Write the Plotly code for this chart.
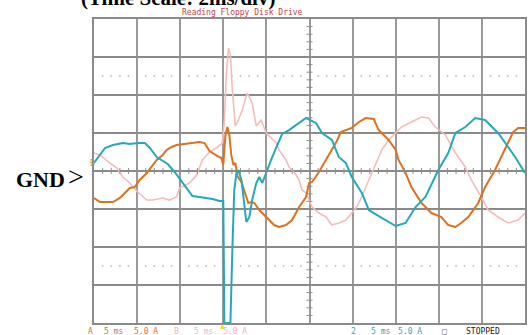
import plotly.graph_objects as go

# Time in ms (2 ms/div), current in A (5 A/div)
teal_t = [0, 0.28, 0.51, 0.88, 1.34, 1.66, 2.03, 2.36, 2.59, 2.91, 3.19, 3.42, 3.74, 3.97, 4.30, 4.57,
          4.90, 5.22, 5.50, 5.82, 6.00, 6.05, 6.33, 6.42, 6.51, 6.61, 6.70, 6.84, 6.98, 7.07, 7.21, 7.34,
          7.53, 7.67, 7.81, 7.99, 8.22, 8.45, 8.73, 9.05, 9.52, 9.84, 10.30, 10.58, 11.04, 11.36, 11.69,
          11.96, 12.43, 12.75, 13.35, 14.00, 14.46, 14.92, 15.38, 15.98, 16.44, 16.77, 17.23, 17.69,
          18.15, 18.75, 19.22, 19.54, 20.0]
teal_i = [1.05, 2.11, 3.03, 3.42, 3.68, 3.55, 3.68, 3.68, 3.03, 1.84, 1.32, 0.92, -0.13, -1.05, -2.37, -3.29,
          -3.42, -3.55, -3.68, -3.95, -3.95, -20, -20, -10.4, -2.5, -0.26, 0.13, -1.18, -5.13, -6.71, -6.05, -3.82,
          -1.58, -0.79, -1.58, -0.13, 1.45, 3.03, 4.87, 5.39, 6.32, 6.97, 6.32, 5.0, 4.08, 1.84, 1.05,
          -0.79, -2.89, -5.13, -6.18, -7.24, -6.84, -4.74, -3.42, 0.13, 2.37, 5.0, 5.79, 6.97,
          6.71, 5.0, 3.16, 1.84, -0.26]

orange_t = [0, 0.28, 0.88, 1.20, 1.66, 1.89, 2.12, 2.45, 2.91, 3.19, 3.37, 3.60, 3.83, 4.43, 4.90, 5.13,
            5.36, 5.73, 5.91, 6.00, 6.10, 6.19, 6.28, 6.37, 6.47, 6.56, 6.65, 6.84, 7.07, 7.16, 7.30, 7.44,
            7.67, 7.81, 7.99, 8.13, 8.36, 8.59, 8.91, 9.19, 9.42, 9.52, 9.84, 9.98, 10.12, 10.30, 10.44,
            10.76, 11.04, 11.27, 11.45, 11.69, 11.96, 12.29, 12.61, 12.98, 13.21, 13.67, 14.00, 14.13,
            14.46, 14.73, 15.20, 15.66, 16.12, 16.44, 16.77, 17.04, 17.37, 17.83, 18.15, 18.61, 18.89,
            19.21, 19.45, 19.68, 20.0]
orange_i = [-3.55, -4.08, -4.08, -3.55, -2.24, -2.11, -1.18, -0.26, 1.45, 2.11, 2.76, 3.16, 3.42, 3.68, 3.82, 3.68,
            2.63, 1.97, 1.71, 0.79, 4.74, 5.79, 4.74, 2.11, 0.79, 1.05, -0.66, -1.45, -3.42, -4.21, -4.08, -4.21,
            -5.13, -5.53, -6.18, -6.45, -7.11, -7.37, -7.11, -6.45, -5.13, -4.74, -3.42, -1.58, -1.45, -0.79, -0.13,
            1.45, 2.76, 3.95, 5.13, 5.39, 5.66, 6.45, 6.97, 6.84, 5.39, 4.08, 2.76, 1.45,
            -0.26, -2.11, -4.21, -5.53, -6.05, -7.11, -7.37, -6.84, -6.05, -4.21, -2.11, 0.13, 1.84,
            3.68, 5.13, 5.66, 5.66]

pink_t = [0, 0.28, 0.74, 1.06, 1.34, 1.66, 2.03, 2.45, 2.73, 3.19, 3.51, 3.83, 3.97, 4.43, 4.76, 5.03,
          5.36, 5.68, 5.96, 6.05, 6.14, 6.24, 6.33, 6.42, 6.56, 6.70, 6.88, 7.11, 7.34, 7.53, 7.76, 7.99,
          8.45, 8.59, 8.91, 9.05, 9.38, 9.52, 9.65, 9.84, 10.12, 10.44, 10.76, 11.04, 11.36, 11.69, 11.96,
          12.19, 12.42, 12.75, 13.07, 13.35, 13.67, 14.00, 14.27, 14.73, 15.20, 15.52, 15.84, 16.30,
          16.77, 17.23, 17.51, 17.97, 18.29, 18.75, 19.21, 19.68, 20.0]
pink_i = [2.37, 2.11, 1.05, 0.39, -0.79, -1.58, -2.76, -3.82, -3.82, -3.55, -3.82, -3.42, -2.24, -1.58, -0.53, 1.45,
          2.50, 3.03, 3.68, 6.71, 12.63, 16.18, 15.26, 10.66, 5.92, 6.71, 8.03, 10.26, 8.95, 5.92, 6.71, 5.0,
          3.68, 2.76, 1.45, 0.53, -0.53, -1.18, -2.50, -2.89, -4.74, -5.53, -6.05, -7.11, -6.84, -6.45, -5.53,
          -4.74, -3.42, -1.18, 1.05, 2.76, 4.08, 5.0, 5.79, 6.45, 7.11, 6.97, 5.79, 4.74,
          2.37, 0.53, -1.18, -3.42, -5.13, -6.05, -6.84, -6.45, -5.53]

T_MAX = 20.0
I_MAX = 20.0
X_DIV = 2.0
Y_DIV = 5.0

L, R, T, B = 94, 3, 19, 12
W, H = 530, 335
PW, PH = W - L - R, H - T - B


def px(x):
    return (x - L) / PW


def py(y):
    return (H - B - y) / PH


fig = go.Figure()

# dotted rows
dot_x, dot_y = [], []
for k in range(10):
    for j in range(1, 5):
        xv = k * X_DIV + j * X_DIV / 5
        for yv in (2.5 * Y_DIV, -2.5 * Y_DIV):
            dot_x.append(xv)
            dot_y.append(yv)
fig.add_trace(go.Scatter(x=dot_x, y=dot_y, mode="markers",
                         marker=dict(size=2, color="#c4c4c4"), hoverinfo="skip"))

fig.add_trace(go.Scatter(x=pink_t, y=pink_i, mode="lines",
                         line=dict(color="#f5bcbc", width=1.6), hoverinfo="skip"))
fig.add_trace(go.Scatter(x=orange_t, y=orange_i, mode="lines",
                         line=dict(color="#e0701e", width=2), hoverinfo="skip"))
fig.add_trace(go.Scatter(x=teal_t, y=teal_i, mode="lines",
                         line=dict(color="#24a9b6", width=2), hoverinfo="skip"))

shapes = []
# center axis ticks
for k in range(1, 50):
    xv = k * X_DIV / 5
    shapes.append(dict(type="line", xref="x", yref="y", x0=xv, x1=xv, y0=-0.4, y1=0.4,
                       line=dict(color="#909090", width=1)))
for k in range(-19, 20):
    yv = k * Y_DIV / 5
    shapes.append(dict(type="line", xref="x", yref="y", x0=T_MAX / 2 - 0.14, x1=T_MAX / 2 + 0.14,
                       y0=yv, y1=yv, line=dict(color="#909090", width=1)))

ann = []
ann.append(dict(text="(Time Scale: 2ms/div)", x=px(178.5), y=py(-2), xref="paper", yref="paper",
                showarrow=False, xanchor="center", yanchor="middle",
                font=dict(family="Liberation Serif", size=21, color="black", weight="bold")))
ann.append(dict(text="Reading Floppy Disk Drive", x=px(243.5), y=py(12.5), xref="paper", yref="paper",
                showarrow=False, xanchor="center", yanchor="middle",
                font=dict(family="DejaVu Sans Mono", size=8, color="#c8404c")))
ann.append(dict(text="GND", x=px(40), y=py(179.5), xref="paper", yref="paper",
                showarrow=False, xanchor="center", yanchor="middle",
                font=dict(family="Liberation Serif", size=22, color="black", weight="bold")))
ann.append(dict(text="&gt;", x=px(76), y=py(176), xref="paper", yref="paper",
                showarrow=False, xanchor="center", yanchor="middle",
                font=dict(family="Liberation Serif", size=28, color="black")))
ann.append(dict(text="B", x=px(92.5), y=py(163.5), xref="paper", yref="paper",
                showarrow=False, xanchor="center", yanchor="middle",
                font=dict(family="DejaVu Sans Mono", size=8, color="#c0905a")))

legend_items = [
    ("A", 90, "#e07028"), ("5 ms", 114, "#e07028"), ("5.0 A", 146.5, "#e07028"),
    ("B", 177, "#f4b4b4"), ("5 ms", 204.5, "#f4b4b4"), ("5.0 A", 235.5, "#f4b4b4"),
    ("2", 355, "#30a8b8"), ("5 ms", 382, "#30a8b8"), ("5.0 A", 411.5, "#30a8b8"),
    ("□", 446, "#606060"), ("STOPPED", 484.5, "#202020"),
]
for txt, xp, col in legend_items:
    ann.append(dict(text=txt, x=px(xp), y=py(331), xref="paper", yref="paper",
                    showarrow=False, xanchor="center", yanchor="middle",
                    font=dict(family="DejaVu Sans Mono", size=8, color=col)))
ann.append(dict(text="▲", x=px(223), y=py(325.5), xref="paper", yref="paper",
                showarrow=False, xanchor="center", yanchor="middle",
                font=dict(family="DejaVu Sans", size=6, color="#e8e000")))

fig.update_layout(
    width=W, height=H,
    margin=dict(l=L, r=R, t=T, b=B, pad=0),
    paper_bgcolor="white", plot_bgcolor="white",
    showlegend=False,
    shapes=shapes, annotations=ann,
    xaxis=dict(range=[0, T_MAX], dtick=X_DIV, tick0=0, showgrid=True, gridcolor="#9a9a9a",
               gridwidth=1.5, zeroline=False, showticklabels=False, ticks="",
               showline=True, mirror=True, linecolor="#8a8a8a", linewidth=1.5, fixedrange=True),
    yaxis=dict(range=[-I_MAX, I_MAX], dtick=Y_DIV, tick0=0, showgrid=True, gridcolor="#8a8a8a",
               gridwidth=1.5, zeroline=False, showticklabels=False, ticks="",
               showline=True, mirror=True, linecolor="#8a8a8a", linewidth=1.5, fixedrange=True),
)

fig.write_html("out.html", config={"displayModeBar": False})
